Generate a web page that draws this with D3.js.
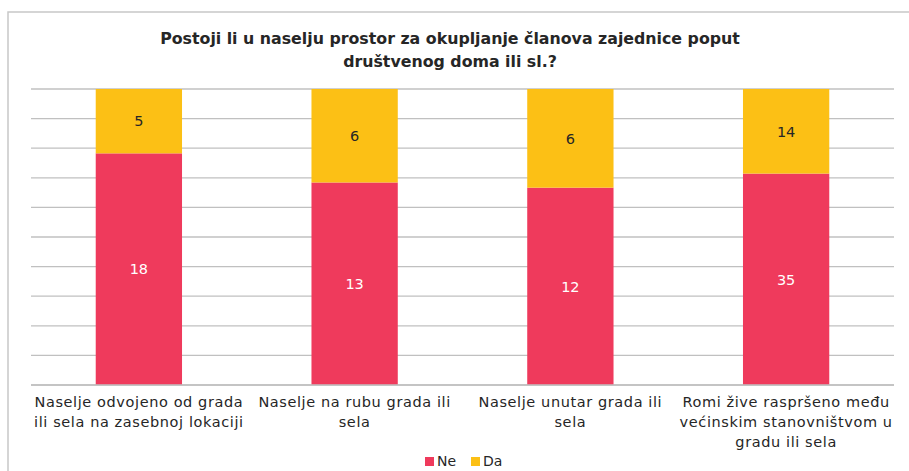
<!DOCTYPE html>
<html>
<head>
<meta charset="utf-8">
<script src="https://cdn.jsdelivr.net/npm/d3@7"></script>
<style>
  html, body { margin: 0; padding: 0; background: #fff; }
  svg { display: block; }
  text { font-family: "DejaVu Sans", sans-serif; }
</style>
</head>
<body>
<svg id="chart" width="909" height="471"></svg>
<script>
const categories = [
  ["Naselje odvojeno od grada", "ili sela na zasebnoj lokaciji"],
  ["Naselje na rubu grada ili", "sela"],
  ["Naselje unutar grada ili", "sela"],
  ["Romi žive raspršeno među", "većinskim stanovništvom u", "gradu ili sela"]
];
const seriesNames = ["Ne", "Da"];
const neValues = [18, 13, 12, 35];
const daValues = [5, 6, 6, 14];
const colors = ["#EF3A5C", "#FCC015"];
const titleLines = ["Postoji li u naselju prostor za okupljanje članova zajednice poput", "društvenog doma ili sl.?"];

const svg = d3.select("#chart");
const W = 909, H = 471;
const margin = {left: 31, right: 15, top: 89, bottom: 86};

// outer border
svg.append("rect").attr("x", 8).attr("y", 12).attr("width", W + 10).attr("height", H + 10)
  .attr("fill", "none").attr("stroke", "#c8c8c8").attr("stroke-width", 1.5);

const x = d3.scaleBand().domain(d3.range(categories.length))
  .range([margin.left, W - margin.right]).paddingInner(0.6).paddingOuter(0.3);
const y = d3.scaleLinear().domain([0, 1]).range([H - margin.bottom, margin.top]);

// gridlines
svg.append("g").selectAll("line").data(d3.range(0, 1.0001, 0.1)).join("line")
  .attr("x1", margin.left).attr("x2", W - margin.right)
  .attr("y1", d => y(d)).attr("y2", d => y(d))
  .attr("stroke", "#c0c0c0").attr("stroke-width", 1.3);

const rows = categories.map((c, i) => ({i, Ne: neValues[i], Da: daValues[i], total: neValues[i] + daValues[i]}));
const stack = d3.stack().keys(seriesNames).value((d, k) => d[k] / d.total);
const layers = stack(rows);

layers.forEach((layer, li) => {
  const g = svg.append("g");
  g.selectAll("rect").data(layer).join("rect")
    .attr("x", d => x(d.data.i)).attr("width", x.bandwidth())
    .attr("y", d => y(d[1])).attr("height", d => y(d[0]) - y(d[1]))
    .attr("fill", colors[li]);
  g.selectAll("text").data(layer).join("text")
    .attr("x", d => x(d.data.i) + x.bandwidth() / 2)
    .attr("y", d => (y(d[0]) + y(d[1])) / 2)
    .attr("dy", "0.36em").attr("text-anchor", "middle")
    .attr("font-size", 14.5)
    .attr("fill", li === 0 ? "#ffffff" : "#262626")
    .text(d => d.data[seriesNames[li]]);
});

// bottom axis line
svg.append("line").attr("x1", margin.left).attr("x2", W - margin.right)
  .attr("y1", y(0)).attr("y2", y(0)).attr("stroke", "#c0c0c0").attr("stroke-width", 1.3);

// category labels
categories.forEach((lines, i) => {
  const t = svg.append("text").attr("text-anchor", "middle").attr("font-size", 14.5)
    .attr("letter-spacing", 0.6).attr("fill", "#262626");
  lines.forEach((l, j) => {
    t.append("tspan").attr("x", x(i) + x.bandwidth() / 2).attr("y", 407 + j * 20).text(l);
  });
});

// title
const tt = svg.append("text").attr("text-anchor", "middle").attr("font-size", 15.8)
  .attr("font-weight", "bold").attr("fill", "#262626");
titleLines.forEach((l, j) => {
  tt.append("tspan").attr("x", 450).attr("y", 44 + j * 23).text(l);
});

// legend
const leg = svg.append("g");
const legX = [425, 471];
seriesNames.forEach((s, i) => {
  leg.append("rect").attr("x", legX[i]).attr("y", 457).attr("width", 9).attr("height", 9).attr("fill", colors[i]);
  leg.append("text").attr("x", legX[i] + 12).attr("y", 466).attr("font-size", 14).attr("fill", "#262626").text(s);
});
</script>
</body>
</html>
